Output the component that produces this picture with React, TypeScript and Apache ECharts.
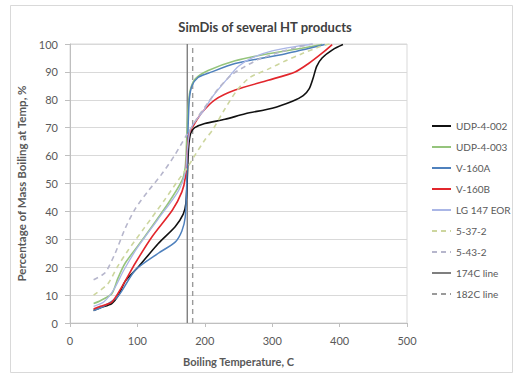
import React, { useEffect, useRef } from "react";
import * as echarts from "echarts";

const seriesNames = ["UDP-4-002", "UDP-4-003", "V-160A", "V-160B", "LG 147 EOR", "5-37-2", "5-43-2", "174C line", "182C line"];

const udp4002: number[][] = [[35,4.5],[45,5.5],[62,7],[72,10],[82,15],[101,20],[131,28.5],[156,34.5],[168,39],[172,43],[174,52],[176,63],[179,68],[185,70],[200,71.5],[230,73],[260,75],[300,77],[330,79.5],[346,81.5],[355,84],[361,88],[366,92],[374,95],[390,98],[405,99.8]];
const udp4003: number[][] = [[35,7],[45,8],[62,10.5],[71,16],[82,21.5],[111,31],[146,43],[166,51],[171,56],[173,65],[175,76],[178,83],[186,87.5],[205,90.5],[245,94],[294,96.5],[344,98.5],[374,99.8]];
const v160a: number[][] = [[35,4.5],[50,6],[71,9.5],[97,19],[131,25],[156,29],[166,33],[171,38],[173,48],[175,68],[177,80],[181,85],[190,88],[205,89.5],[245,93],[320,96.5],[378,99.8]];
const v160b: number[][] = [[35,5],[45,6],[62,7.5],[77,13],[97,21.5],[122,31],[152,40.5],[166,47],[171,52],[174,62],[177,68],[185,71.5],[196,75.5],[215,80],[245,83.5],[294,87],[334,90],[354,93],[374,96.7],[389,99.8]];
const lg147: number[][] = [[35,6],[50,7.5],[65,12],[80,19],[100,27],[130,37],[160,47],[171,54],[174,62],[178,69],[185,72],[198,76],[211,81],[235,88],[250,92],[270,95],[300,97.5],[340,99.3],[360,100]];
const s5372: number[][] = [[35,10],[56,14],[70,20],[86,26],[110,34],[140,44],[160,51],[175,56],[185,60],[200,65.6],[211,69],[228,76],[248,83.5],[267,88],[294,91],[320,94],[344,96.5],[370,99],[385,100]];
const s5432: number[][] = [[35,15.5],[52,18],[67,25],[82,34],[97,41],[115,47],[135,53],[155,60],[172,67],[180,70],[190,74],[205,79],[220,84],[240,89],[260,92],[280,94.5],[310,97],[340,99],[360,100]];
const line174: number[][] = [[174,0],[174,100]];
const line182: number[][] = [[182,0],[182,100]];

const FONT = "Lato, 'Open Sans', sans-serif";
const TXT = "#595959";

export default function App() {
  const ref = useRef<HTMLDivElement>(null);
  useEffect(() => {
    if (!ref.current) return;
    const chart = echarts.init(ref.current, undefined, { renderer: "svg" });
    const data = [udp4002, udp4003, v160a, v160b, lg147, s5372, s5432, line174, line182];
    const colors = ["#111111", "#95c47c", "#4f81bd", "#e2262c", "#aab6e6", "#cdd69e", "#b6b6cc", "#7f7f7f", "#9a9a9a"];
    const types = ["solid", "solid", "solid", "solid", "solid", "dashed", "dashed", "solid", "dashed"];
    const widths = [1.6, 1.6, 1.5, 1.6, 1.3, 1.6, 1.6, 1.4, 1.4];
    const series = seriesNames.map((name, i) => ({
      name,
      type: "line",
      data: data[i],
      symbol: "none",
      smooth: i >= 7 ? false : 0.25,
      z: i >= 7 ? 1 : 3,
      lineStyle: { color: colors[i], width: widths[i], type: types[i] === "dashed" ? [5, 4] : "solid" },
      itemStyle: { color: colors[i] },
    }));
    chart.setOption({
      animation: false,
      backgroundColor: "#ffffff",
      title: {
        text: "SimDis of several HT products",
        left: 260,
        top: 15,
        textAlign: "center",
        textStyle: { fontFamily: FONT, fontSize: 13, fontWeight: "bold", color: "#404040" },
      },
      graphic: [
        { type: "rect", shape: { x: 10.5, y: 5.5, width: 502, height: 367 }, style: { fill: "none", stroke: "#d9d9d9", lineWidth: 1 }, silent: true },
      ],
      grid: { left: 70, right: 107, top: 44, bottom: 50, show: true, borderColor: "#d9d9d9", borderWidth: 1 },
      legend: {
        orient: "vertical",
        left: 426,
        top: 115,
        itemWidth: 19,
        itemHeight: 12,
        itemGap: 9,
        itemStyle: { opacity: 0 },
        textStyle: { fontFamily: FONT, fontSize: 10, color: TXT, lineHeight: 12 },
        data: seriesNames,
      },
      xAxis: {
        type: "value",
        min: 0,
        max: 500,
        interval: 100,
        name: "Boiling Temperature, C",
        nameLocation: "middle",
        nameGap: 33,
        nameTextStyle: { fontFamily: FONT, fontSize: 11, fontWeight: "bold", color: TXT },
        axisLine: { show: true, lineStyle: { color: "#bfbfbf" } },
        axisTick: { show: true, length: 4, lineStyle: { color: "#bfbfbf" } },
        axisLabel: { fontFamily: FONT, fontSize: 11, color: TXT, margin: 12 },
        splitLine: { show: false },
      },
      yAxis: {
        type: "value",
        min: 0,
        max: 100,
        interval: 10,
        name: "Percentage of Mass Boiling at Temp, %",
        nameLocation: "middle",
        nameGap: 36,
        nameTextStyle: { fontFamily: FONT, fontSize: 11.5, fontWeight: "bold", color: TXT },
        axisLine: { show: true, lineStyle: { color: "#bfbfbf" } },
        axisTick: { show: true, length: 5, lineStyle: { color: "#bfbfbf" } },
        axisLabel: { fontFamily: FONT, fontSize: 11, color: TXT, margin: 12 },
        splitLine: { show: true, lineStyle: { color: "#d9d9d9", width: 1 } },
      },
      series,
    });
    return () => chart.dispose();
  }, []);
  return <div ref={ref} style={{ width: 514, height: 373, position: "absolute", left: 0, top: 0 }} />;
}
